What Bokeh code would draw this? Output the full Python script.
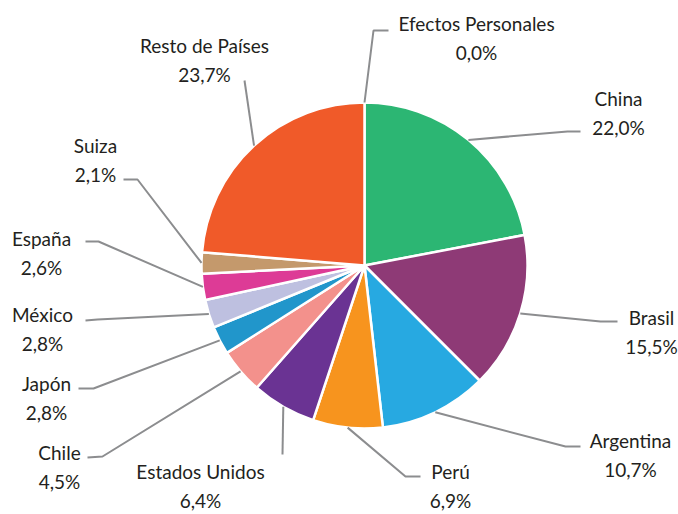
import math
from bokeh.plotting import figure
from bokeh.models import Range1d, ColumnDataSource
from bokeh.core.properties import value
from bokeh.embed import file_html
from bokeh.resources import INLINE

# ---- data ----
categories = ["China", "Brasil", "Argentina", "Perú", "Estados Unidos", "Chile",
              "Japón", "México", "España", "Suiza", "Resto de Países", "Efectos Personales"]
shares = [22.0, 15.5, 10.7, 6.9, 6.4, 4.5, 2.8, 2.8, 2.6, 2.1, 23.7, 0.0]
colors = ["#2cb673", "#8e3a76", "#27a9e1", "#f7941e", "#6a3393", "#f3918c",
          "#2196cb", "#bec0e0", "#dd3b96", "#c4996c", "#f05a29", "#f05a29"]

# ---- layout (screen pixels) ----
W, H = 678, 514
CX, CY, R = 364, 265, 163
label_pos = [(618, 98), (651, 317), (630, 440), (450, 471), (200, 471), (59, 452),
             (46, 383), (42, 314), (41, 238), (95, 145), (204, 45), (476, 23)]
elbows = [(567, 131), (600, 321), (565, 446), (405, 476), (282, 454), (102, 456),
          (93, 388), (97, 319), (98, 241), (137, 179), (244, 80), (373, 30)]
ends = [(580, 131), (617, 321), (580, 446), (420, 476), (282, 454), (87, 457),
        (78, 388), (85, 320), (85, 241), (123, 179), (244, 80), (388, 30)]

def Y(ys):
    return H - ys

p = figure(width=W, height=H, output_backend="svg", toolbar_location=None,
           x_range=Range1d(0, W), y_range=Range1d(0, H),
           x_axis_location=None, y_axis_location=None, min_border=0)
p.grid.visible = False
p.outline_line_color = None
p.background_fill_color = "white"

total = sum(shares)
starts, stops, mids = [], [], []
cum = 0.0
for s in shares:
    a0 = math.pi / 2 - 2 * math.pi * cum / total
    cum += s
    a1 = math.pi / 2 - 2 * math.pi * cum / total
    starts.append(a0)
    stops.append(a1)
    mids.append((a0 + a1) / 2)

keep = [i for i, s in enumerate(shares) if s > 0]
src = ColumnDataSource(dict(start=[starts[i] for i in keep], end=[stops[i] for i in keep],
                            color=[colors[i] for i in keep]))
p.wedge(x=CX, y=Y(CY), radius=R, start_angle="start", end_angle="end",
        direction="clock", fill_color="color", line_color="white", line_width=2.5,
        source=src)

# leader lines
xs, ys = [], []
for m, (ex, ey), (tx, ty) in zip(mids, elbows, ends):
    sx = CX + R * math.cos(m)
    sy = Y(CY) + R * math.sin(m)
    xs.append([sx, ex, tx])
    ys.append([sy, Y(ey), Y(ty)])
p.multi_line(xs, ys, line_color="#8c8d8f", line_width=2)

# labels
names_x = [lp[0] for lp in label_pos]
names_y = [Y(lp[1]) for lp in label_pos]
vals_y = [Y(lp[1] + 29) for lp in label_pos]
val_txt = [f"{v:.1f}%".replace(".", ",") for v in shares]
common = dict(text_align="center", text_baseline="middle", text_color="#231f20",
              text_font=value("Lato"), text_font_size="19px")
p.text(x=names_x, y=names_y, text=categories, **common)
p.text(x=names_x, y=vals_y, text=val_txt, **common)

open("out.html", "w").write(file_html(p, INLINE))
